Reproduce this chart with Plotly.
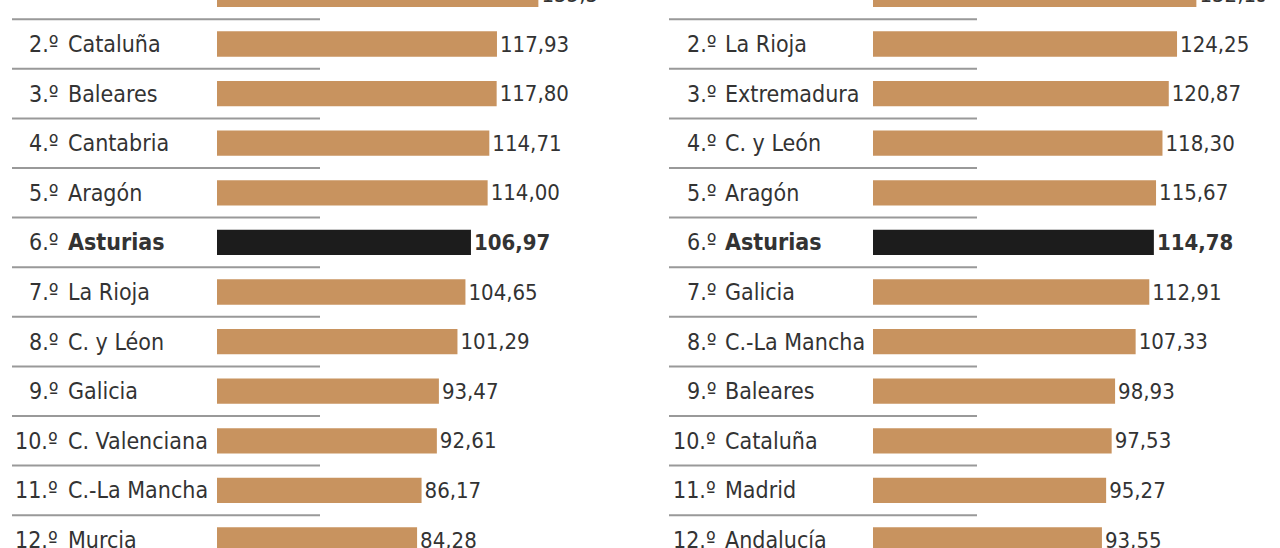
import plotly.graph_objects as go

# ---- data ----
left_ranks = ["1.º", "2.º", "3.º", "4.º", "5.º", "6.º", "7.º", "8.º", "9.º", "10.º", "11.º", "12.º"]
left_regions = ["Madrid", "Cataluña", "Baleares", "Cantabria", "Aragón", "Asturias",
                "La Rioja", "C. y Léon", "Galicia", "C. Valenciana", "C.-La Mancha", "Murcia"]
left_values = [135.37, 117.93, 117.80, 114.71, 114.00, 106.97,
               104.65, 101.29, 93.47, 92.61, 86.17, 84.28]

right_ranks = ["1.º", "2.º", "3.º", "4.º", "5.º", "6.º", "7.º", "8.º", "9.º", "10.º", "11.º", "12.º"]
right_regions = ["Cantabria", "La Rioja", "Extremadura", "C. y León", "Aragón", "Asturias",
                 "Galicia", "C.-La Mancha", "Baleares", "Cataluña", "Madrid", "Andalucía"]
right_values = [132.15, 124.25, 120.87, 118.30, 115.67, 114.78,
                112.91, 107.33, 98.93, 97.53, 95.27, 93.55]

highlight = "Asturias"

# ---- style ----
W, H = 1280, 548
FONT = "DejaVu Sans Condensed, DejaVu Sans, sans-serif"
TXT = "#333333"
TAN = "#c8935f"
DARK = "#1c1c1c"
LINE = "#999999"
FS_NAME = 23
FS_RANK = 23
FS_VAL = 22
XMAX = 160

fig = go.Figure()


def add_panel(regions, values, ranks, xa, ya, rank_x, name_x, line_x0, line_x1):
    colors = [DARK if r == highlight else TAN for r in regions]
    tmpl = ["<b>%{x:.2f}</b>" if r == highlight else "%{x:.2f}" for r in regions]
    fig.add_trace(go.Bar(
        x=values, y=regions, orientation="h",
        marker=dict(color=colors, line=dict(width=0)),
        texttemplate=tmpl, textposition="outside",
        textfont=dict(family=FONT, size=FS_VAL, color=TXT),
        constraintext="none", cliponaxis=True,
        xaxis=xa, yaxis=ya, hoverinfo="skip",
    ))
    for rk, reg in zip(ranks, regions):
        fig.add_annotation(x=rank_x / W, y=reg, xref="paper", yref=ya,
                           text=rk, showarrow=False, xanchor="right",
                           font=dict(family=FONT, size=FS_RANK, color=TXT))
        fig.add_annotation(x=name_x / W, y=reg, xref="paper", yref=ya,
                           text=("<b>%s</b>" % reg) if reg == highlight else reg,
                           showarrow=False, xanchor="left",
                           font=dict(family=FONT, size=FS_NAME, color=TXT))
    for i in range(len(regions)):
        fig.add_shape(type="line", xref="paper", yref=ya,
                      x0=line_x0 / W, x1=line_x1 / W, y0=i + 0.5, y1=i + 0.5,
                      line=dict(color=LINE, width=2))


add_panel(left_regions, left_values, left_ranks, "x", "y", 60, 66, 12, 320)
add_panel(right_regions, right_values, right_ranks, "x2", "y2", 718, 723, 669, 977)

top_v = 5.6 / 49.6
bot_v = (H + 5.6) / 49.6

fig.update_layout(
    width=W, height=H,
    margin=dict(l=0, r=0, t=0, b=0),
    paper_bgcolor="white", plot_bgcolor="white",
    showlegend=False,
    separators=",.",
    bargap=0.49,
    xaxis=dict(domain=[217 / W, (217 + XMAX * 2.374) / W], range=[0, XMAX], visible=False),
    xaxis2=dict(domain=[873 / W, (873 + XMAX * 2.447) / W], range=[0, XMAX], visible=False),
    yaxis=dict(type="category", categoryarray=left_regions, range=[bot_v, top_v],
               showticklabels=False, showgrid=False, zeroline=False, anchor="x"),
    yaxis2=dict(type="category", categoryarray=right_regions, range=[bot_v, top_v],
                showticklabels=False, showgrid=False, zeroline=False, anchor="x2"),
)

fig.write_html("out.html",
               config={"displayModeBar": False},
               post_script="document.body.style.margin='0';document.body.style.overflow='hidden';")
